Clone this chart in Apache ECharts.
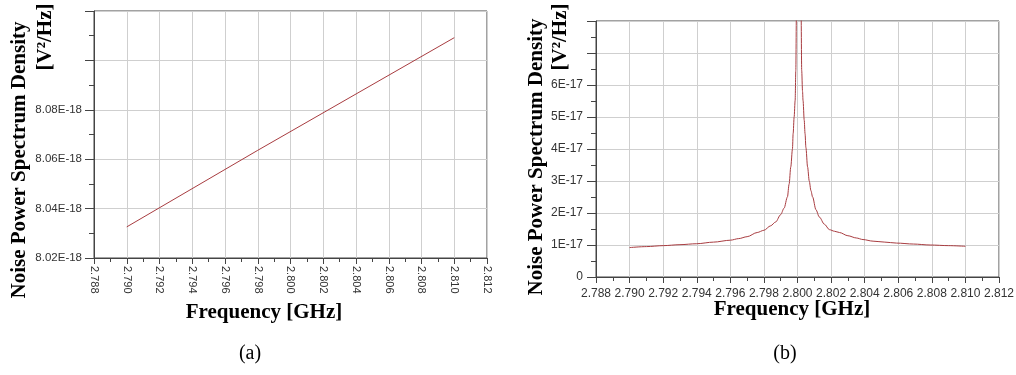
<!DOCTYPE html>
<html>
<head>
<meta charset="utf-8">
<script src="https://cdn.jsdelivr.net/npm/echarts@6/dist/echarts.min.js"></script>
<style>
html,body{margin:0;padding:0;background:#fff;}
#c{width:1016px;height:375px;}
</style>
</head>
<body>
<div id="c"></div>
<script>
// Values are in units of 1E-18 V^2/Hz
const xTickLabels = ['2.788','2.790','2.792','2.794','2.796','2.798','2.800','2.802','2.804','2.806','2.808','2.810','2.812'];
const yTickLabelsA = ['8.02E-18','8.04E-18','8.06E-18','8.08E-18','',''];
const yTickLabelsB = ['0','1E-17','2E-17','3E-17','4E-17','5E-17','6E-17','',''];

const freqA = [2.790, 2.798, 2.810];
const psdA  = [8.0326, 8.0636, 8.1092];

const freqB = [2.790, 2.791, 2.792, 2.793, 2.794, 2.795, 2.796, 2.7965, 2.7970, 2.7976, 2.7980, 2.7984, 2.7987, 2.7990, 2.7992,
               2.7994, 2.7995, 2.7996, 2.7997, 2.79974, 2.7998, 2.79986, 2.7999, 2.79994, 2.8000,
               2.80021, 2.80025, 2.8003, 2.80033, 2.8004, 2.80045, 2.8005, 2.8006, 2.8007, 2.8008, 2.8009, 2.8011, 2.8013,
               2.8016, 2.8019, 2.8022, 2.8025, 2.8030, 2.8035, 2.8039, 2.8045, 2.8052, 2.8059, 2.8069, 2.8079, 2.8090, 2.8100];
const psdB  = [9.2, 9.5, 9.8, 10.1, 10.4, 10.9, 11.5, 12.0, 12.6, 13.9, 14.6, 16.0, 17.2, 19.5, 21.5,
               25.0, 29.0, 34.4, 40.0, 44.8, 50.0, 55.2, 64.6, 85.0, 300.0,
               85.0, 64.6, 58.0, 55.2, 49.0, 44.8, 40.5, 34.4, 30.0, 27.0, 25.0, 21.0, 18.75,
               16.5, 14.8, 14.3, 13.9, 12.9, 12.2, 11.7, 11.2, 10.9, 10.6, 10.3, 10.0, 9.8, 9.6];

const lineColor = '#a83c40';
const axisColor = '#444';
const gridColor = '#cfcfcf';
const labelColor = '#333';
const serif = '"Liberation Serif", "Times New Roman", serif';
const sans = '"Liberation Sans", Arial, sans-serif';

function xAxisCfg(gridIndex, rotate, fontSize, margin) {
  return {
    type: 'value', gridIndex, min: 2.788, max: 2.812, interval: 0.002,
    axisLine: { show: true, onZero: false, lineStyle: { color: axisColor, width: 1 } },
    axisTick: { show: true, length: 6, lineStyle: { color: axisColor } },
    minorTick: { show: true, splitNumber: 2, length: 4, lineStyle: { color: axisColor } },
    splitLine: { show: true, lineStyle: { color: gridColor, width: 1 } },
    axisLabel: {
      rotate, margin, fontSize, fontFamily: sans, color: labelColor,
      showMinLabel: true, showMaxLabel: true, hideOverlap: false,
      formatter: function (v) {
        const i = Math.round((v - 2.788) / 0.002);
        return xTickLabels[i] !== undefined ? xTickLabels[i] : '';
      }
    }
  };
}
function yAxisCfg(gridIndex, min, max, interval, labels, fontSize, margin) {
  return {
    type: 'value', gridIndex, min, max, interval,
    axisLine: { show: true, lineStyle: { color: axisColor, width: 1 } },
    axisTick: { show: true, length: 9, lineStyle: { color: axisColor } },
    minorTick: { show: true, splitNumber: 2, length: 5, lineStyle: { color: axisColor } },
    splitLine: { show: true, lineStyle: { color: gridColor, width: 1 } },
    axisLabel: {
      margin, fontSize, fontFamily: sans, color: labelColor,
      showMinLabel: true, showMaxLabel: true,
      formatter: function (v) {
        const i = Math.round((v - min) / interval);
        return labels[i] !== undefined ? labels[i] : '';
      }
    }
  };
}

const chart = echarts.init(document.getElementById('c'), null, { renderer: 'canvas' });
const titleFont = 'bold 21px ' + serif;
chart.setOption({
  backgroundColor: '#fff',
  animation: false,
  grid: [
    { left: 94, top: 11, width: 393, height: 247, containLabel: false, outerBoundsMode: 'none', show: true, borderColor: axisColor, borderWidth: 1, backgroundColor: 'transparent' },
    { left: 596, top: 21, width: 403, height: 256, containLabel: false, outerBoundsMode: 'none', show: true, borderColor: axisColor, borderWidth: 1, backgroundColor: 'transparent' }
  ],
  xAxis: [
    xAxisCfg(0, -90, 11, 8),
    xAxisCfg(1, 0, 12, 11)
  ],
  yAxis: [
    yAxisCfg(0, 8.02, 8.12, 0.02, yTickLabelsA, 11.5, 12),
    yAxisCfg(1, 0, 80, 10, yTickLabelsB, 12, 13)
  ],
  series: [
    { type: 'line', xAxisIndex: 0, yAxisIndex: 0, data: freqA.map((f, i) => [f, psdA[i]]),
      showSymbol: false, clip: true, lineStyle: { color: lineColor, width: 1 } },
    { type: 'line', xAxisIndex: 1, yAxisIndex: 1, data: freqB.map((f, i) => [f, psdB[i]]),
      showSymbol: false, clip: true, smooth: 0.3, smoothMonotone: 'x', lineStyle: { color: lineColor, width: 1 } }
  ],
  graphic: [
    { type: 'text', x: 20, y: 160, rotation: Math.PI / 2, style: { text: 'Noise Power Spectrum Density', font: titleFont, fill: '#000', align: 'center', verticalAlign: 'middle', textAlign: 'center', textVerticalAlign: 'middle' } },
    { type: 'text', x: 46, y: 37, rotation: Math.PI / 2, style: { text: '[V²/Hz]', font: titleFont, fill: '#000', align: 'center', verticalAlign: 'middle', textAlign: 'center', textVerticalAlign: 'middle' } },
    { type: 'text', x: 537, y: 157, rotation: Math.PI / 2, style: { text: 'Noise Power Spectrum Density', font: titleFont, fill: '#000', align: 'center', verticalAlign: 'middle', textAlign: 'center', textVerticalAlign: 'middle' } },
    { type: 'text', x: 561, y: 37, rotation: Math.PI / 2, style: { text: '[V²/Hz]', font: titleFont, fill: '#000', align: 'center', verticalAlign: 'middle', textAlign: 'center', textVerticalAlign: 'middle' } },
    { type: 'text', x: 264, y: 313, style: { text: 'Frequency [GHz]', font: titleFont, fill: '#000', align: 'center', verticalAlign: 'middle', textAlign: 'center', textVerticalAlign: 'middle' } },
    { type: 'text', x: 792, y: 310, style: { text: 'Frequency [GHz]', font: titleFont, fill: '#000', align: 'center', verticalAlign: 'middle', textAlign: 'center', textVerticalAlign: 'middle' } },
    { type: 'text', x: 250, y: 354, style: { text: '(a)', font: '20px ' + serif, fill: '#000', align: 'center', verticalAlign: 'middle', textAlign: 'center', textVerticalAlign: 'middle' } },
    { type: 'text', x: 785, y: 354, style: { text: '(b)', font: '20px ' + serif, fill: '#000', align: 'center', verticalAlign: 'middle', textAlign: 'center', textVerticalAlign: 'middle' } }
  ]
});
</script>
</body>
</html>
